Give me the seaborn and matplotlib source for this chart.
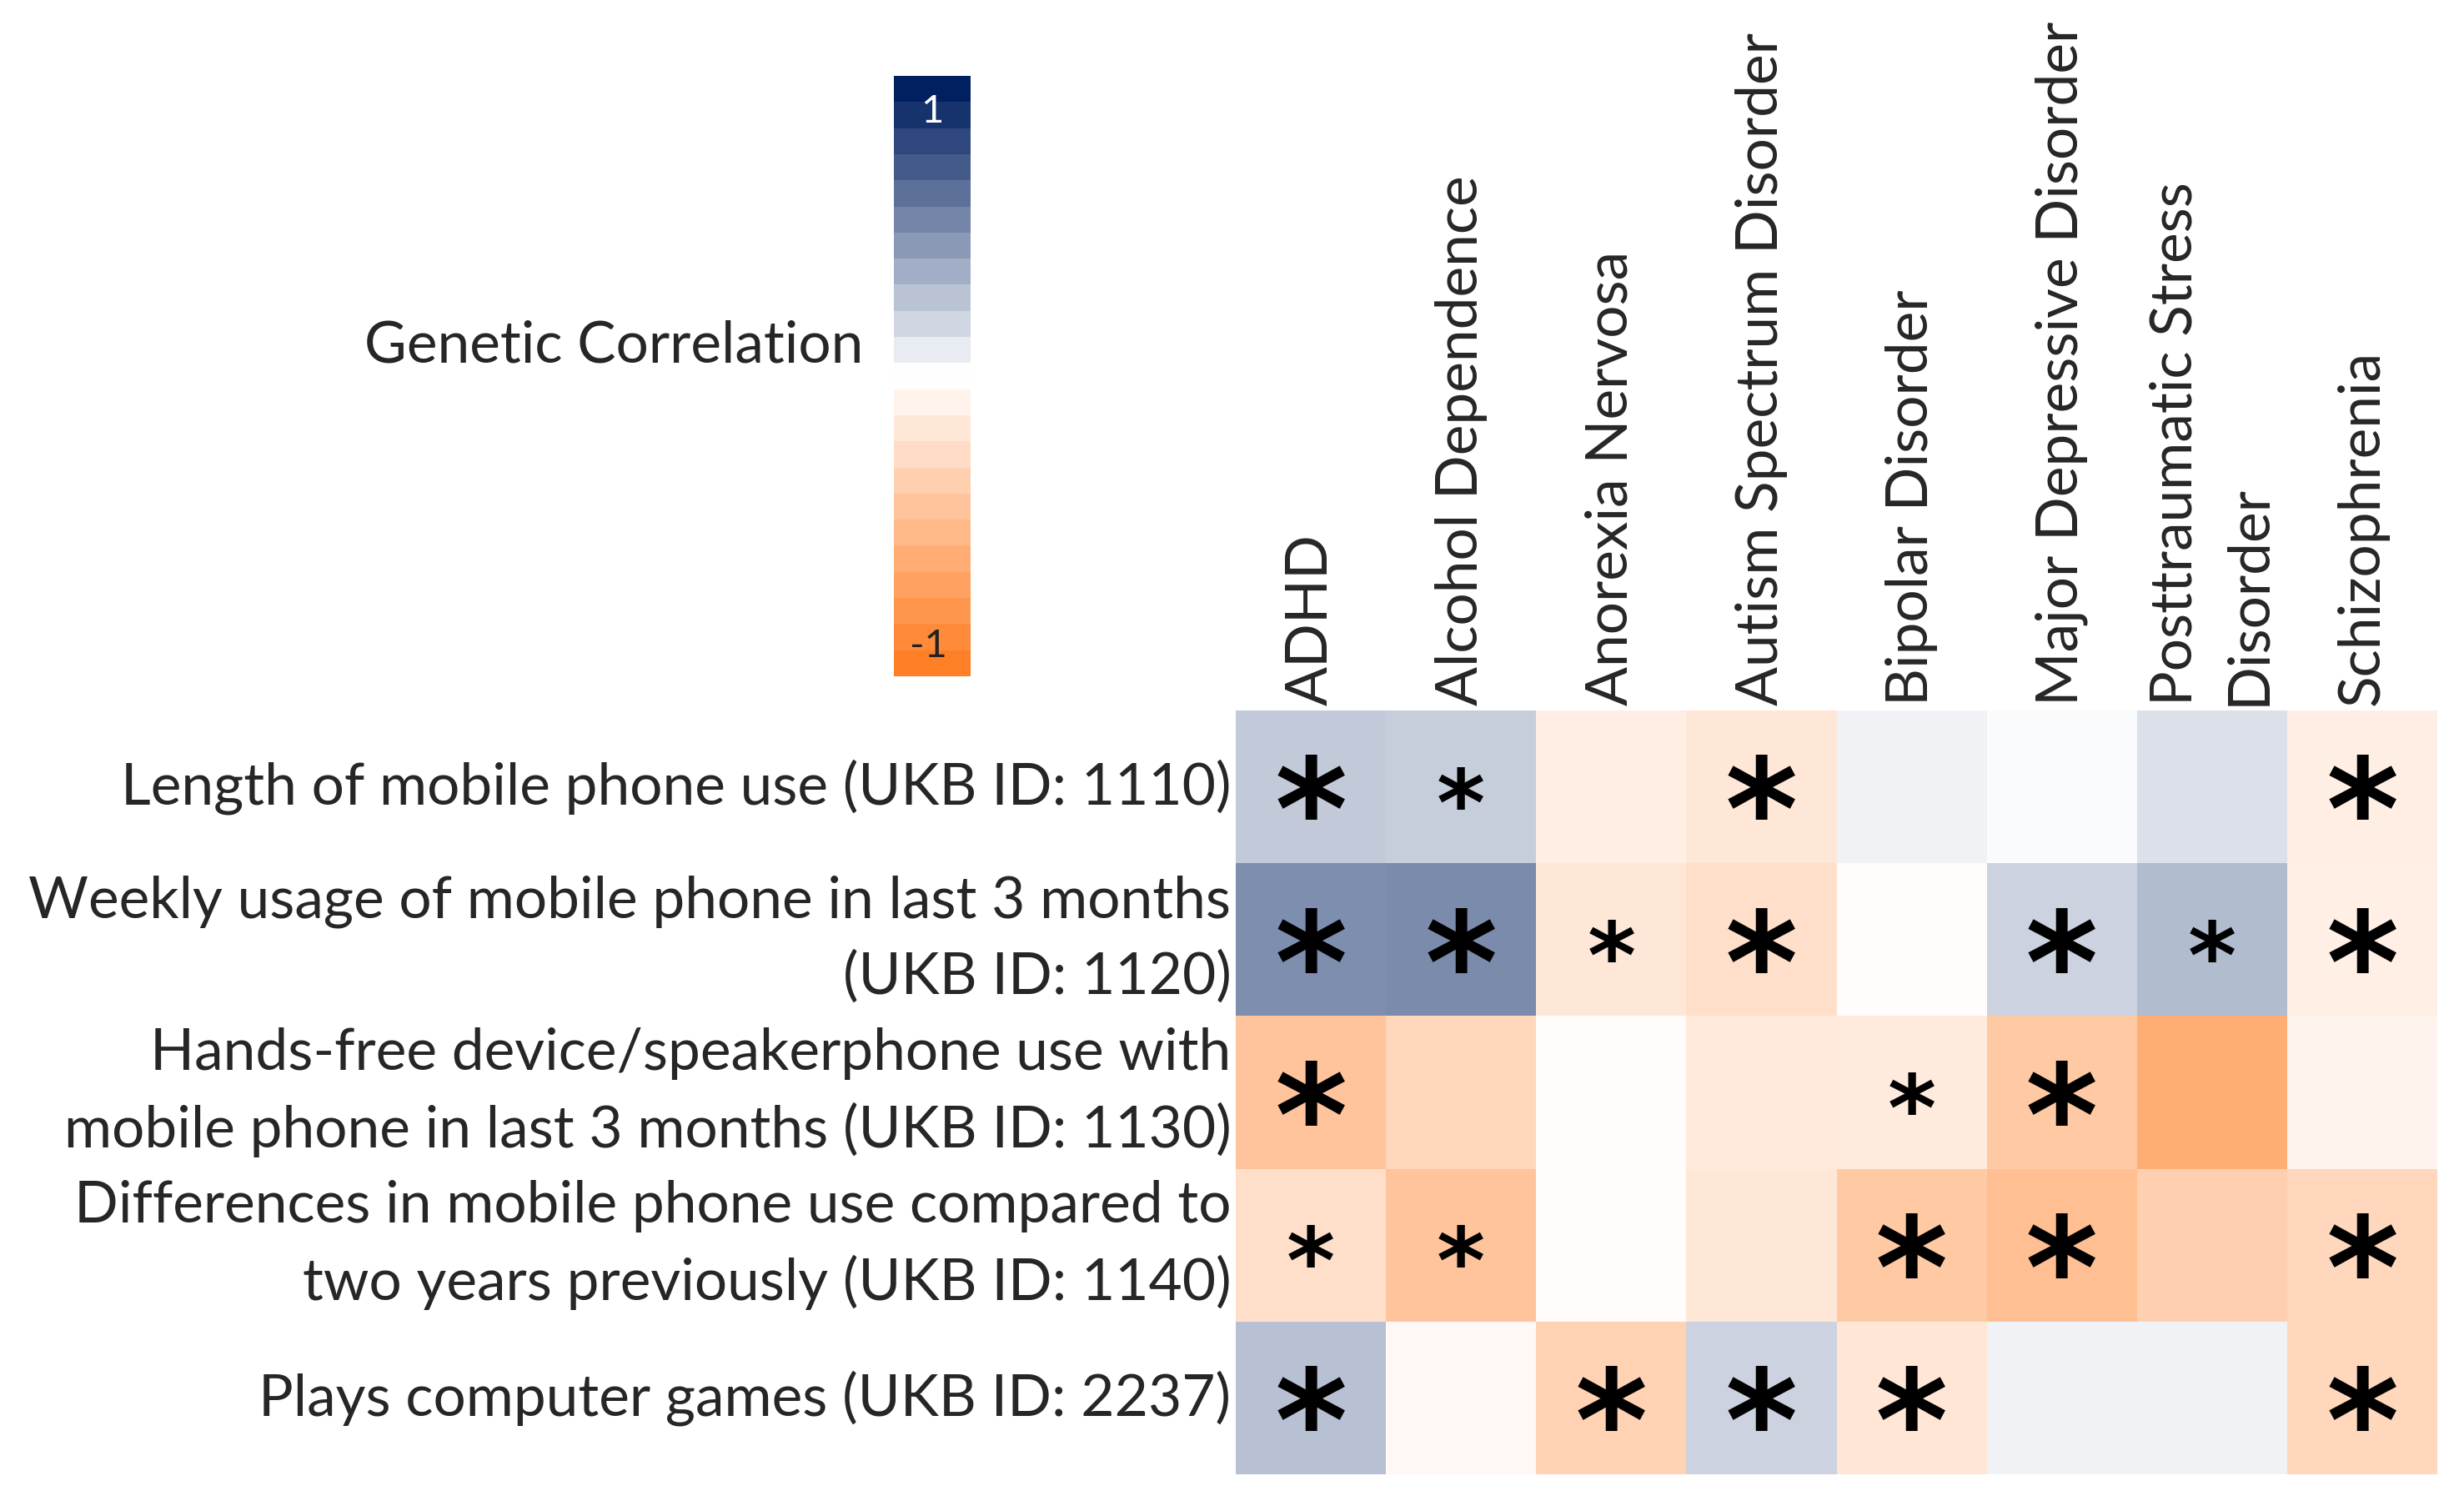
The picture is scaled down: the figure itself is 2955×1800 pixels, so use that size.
import numpy as np
import pandas as pd
import seaborn as sns
import matplotlib.pyplot as plt
from matplotlib.colors import LinearSegmentedColormap, ListedColormap, BoundaryNorm
from matplotlib.cm import ScalarMappable

# traits (rows) and disorders (columns)
traits = [
    "Length of mobile phone use (UKB ID: 1110)",
    "Weekly usage of mobile phone in last 3 months\n(UKB ID: 1120)",
    "Hands-free device/speakerphone use with\nmobile phone in last 3 months (UKB ID: 1130)",
    "Differences in mobile phone use compared to\ntwo years previously (UKB ID: 1140)",
    "Plays computer games (UKB ID: 2237)",
]
disorders = [
    "ADHD", "Alcohol Dependence", "Anorexia Nervosa", "Autism Spectrum Disorder",
    "Bipolar Disorder", "Major Depressive Disorder", "Posttraumatic Stress\nDisorder",
    "Schizophrenia",
]

# genetic correlations
rg_1110 = [0.24, 0.22, -0.13, -0.18, 0.06, 0.02, 0.14, -0.13]
rg_1120 = [0.50, 0.52, -0.18, -0.25, -0.02, 0.20, 0.30, -0.12]
rg_1130 = [-0.46, -0.31, -0.02, -0.16, -0.15, -0.42, -0.64, -0.08]
rg_1140 = [-0.25, -0.46, -0.02, -0.18, -0.42, -0.50, -0.36, -0.31]
rg_2237 = [0.28, -0.05, -0.35, 0.20, -0.19, 0.06, 0.06, -0.31]

# significance: 2 = big star, 1 = small star, 0 = nothing
sig_1110 = [2, 1, 0, 2, 0, 0, 0, 2]
sig_1120 = [2, 2, 1, 2, 0, 2, 1, 2]
sig_1130 = [2, 0, 0, 0, 1, 2, 0, 0]
sig_1140 = [1, 1, 0, 0, 2, 2, 0, 2]
sig_2237 = [2, 0, 2, 2, 2, 0, 0, 2]

df = pd.DataFrame([rg_1110, rg_1120, rg_1130, rg_1140, rg_2237], index=traits, columns=disorders)
sig = np.array([sig_1110, sig_1120, sig_1130, sig_1140, sig_2237])

sns.set_style("white")
plt.rcParams['font.family'] = ['Lato', 'DejaVu Sans']

cmap = LinearSegmentedColormap.from_list("gc", [(0, "#ff7f27"), (0.5, "#ffffff"), (1, "#002060")])

W, H = 2955, 1800
fig = plt.figure(figsize=(W / 100, H / 100), dpi=100)
ax = fig.add_axes([1482 / W, 1 - 1768 / H, (2923 - 1482) / W, (1768 - 852) / H])
cax = fig.add_axes([1072 / W, 1 - 811 / H, 92 / W, 720 / H])

sns.heatmap(df, ax=ax, cmap=cmap, vmin=-1, vmax=1, cbar=False, linewidths=0)

# stars
for i in range(sig.shape[0]):
    for j in range(sig.shape[1]):
        if sig[i, j] == 0:
            continue
        fs = 120 if sig[i, j] == 2 else 80
        ax.text(j + 0.5, i + 0.5 + (0.22 if sig[i, j] == 2 else 0.15), "*", ha="center", va="center",
                fontsize=fs, fontweight="bold", family="DejaVu Sans", color="black")

ax.xaxis.tick_top()
ax.set_xticklabels(disorders, rotation=90, ha="center", va="bottom", fontsize=50,
                   multialignment="left", linespacing=1.5)
ax.set_yticklabels(traits, rotation=0, ha="right", va="center", fontsize=50,
                   multialignment="right", linespacing=1.5)
ax.tick_params(axis="both", length=0, pad=4)
ax.set_xlabel("")
ax.set_ylabel("")

# stepped colour scale
n = 23
edges = np.linspace(-1, 1, n + 1)
bar_cmap = ListedColormap([cmap(v) for v in np.linspace(0, 1, n)])
cb = fig.colorbar(ScalarMappable(norm=BoundaryNorm(edges, n), cmap=bar_cmap), cax=cax)
cb.outline.set_visible(False)
cb.set_ticks([])
cb.minorticks_off()
cax.tick_params(length=0)
cax.text(0.5, 0.94, "1", transform=cax.transAxes, ha="center", va="center", fontsize=34, color="white")
cax.text(0.45, 0.05, "-1", transform=cax.transAxes, ha="center", va="center", fontsize=34, color="#222222")
fig.text(1035 / W, 1 - 415 / H, "Genetic Correlation", ha="right", va="center", fontsize=50)

fig.savefig("out.png", dpi=100, facecolor="white")
